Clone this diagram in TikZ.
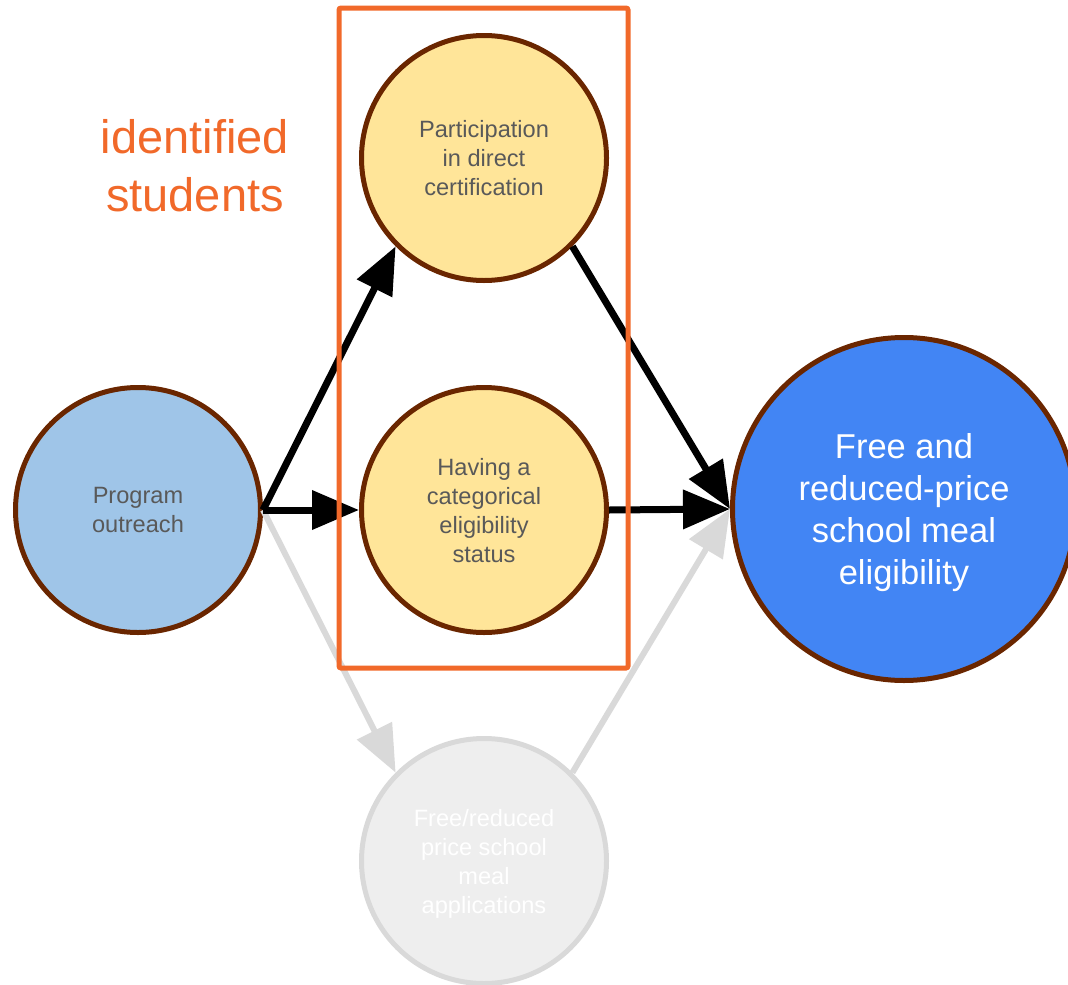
\documentclass[tikz,border=0pt]{standalone}
\usepackage{fontspec}
\setmainfont{Liberation Sans}
\usetikzlibrary{positioning,shapes,arrows.meta}
\definecolor{rim}{HTML}{6A2600}
\definecolor{outreachblue}{HTML}{9FC5E8}
\definecolor{paleyellow}{HTML}{FFE599}
\definecolor{eligblue}{HTML}{4285F4}
\definecolor{palegrey}{HTML}{EEEEEE}
\definecolor{rimgrey}{HTML}{D9D9D9}
\definecolor{textgrey}{HTML}{595959}
\definecolor{boxorange}{HTML}{F1692A}

\begin{document}
\begin{tikzpicture}[x=1pt, y=-1pt,
    bubble/.style={circle, draw=rim, line width=5pt, minimum size=245pt, inner sep=0pt,
                   align=center, text depth=0pt, text=textgrey,
                   font=\fontsize{23.6}{29}\selectfont},
    link/.style={line width=7pt, -{Triangle[length=47pt,width=38pt]}},
    faded/.style={link, draw=rimgrey, line width=6pt}]
 \useasboundingbox (0,0) rectangle (1068,985);
 % nodes
 \node [bubble, fill=outreachblue] (outreach) at (138,510) {Program\\outreach};
 \node [bubble, fill=paleyellow] (directcert) at (484,158) {Participation\\in direct\\certification};
 \node [bubble, fill=paleyellow] (categorical) at (484,510) {Having a\\categorical\\eligibility\\status};
 \node [bubble, fill=palegrey, draw=rimgrey, text=white] (applications) at (484,861)
       {Free/reduced\\price school\\meal\\applications};
 \node [bubble, fill=eligblue, text=white, minimum size=343pt,
        font=\fontsize{34.5}{42}\selectfont] (eligibility) at (904,509)
       {Free and\\reduced-price\\school meal\\eligibility};
 \node [text=boxorange, align=center, font=\fontsize{47}{58}\selectfont] (identified) at (195,166)
       {identified\\students};
 % connectors
 \draw [faded] (outreach.east) -- (applications.north west);
 \draw [faded] (applications.north east) -- (eligibility.west);
 \draw [link] (outreach.east) -- (directcert.south west);
 \draw [link] (outreach.east) -- (categorical.west);
 \draw [link] (directcert.south east) -- (eligibility.west);
 \draw [link] (categorical.east) -- (eligibility.west);
 % box round the identified students
 \draw [boxorange, line width=5pt, rounded corners=2pt] (339,8) rectangle (628,668);
\end{tikzpicture}
\end{document}
